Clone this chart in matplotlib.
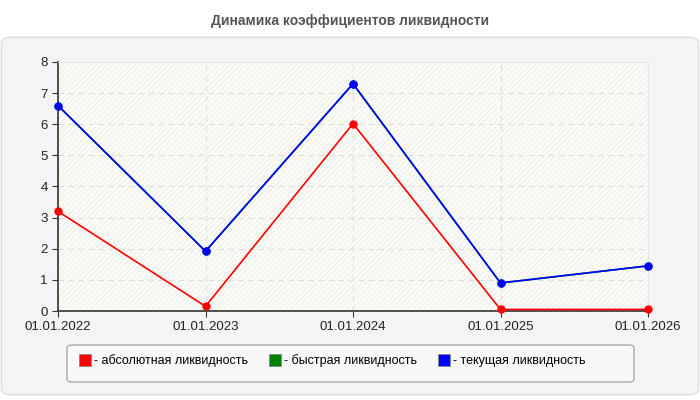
import matplotlib.pyplot as plt
from matplotlib.patches import FancyBboxPatch
from matplotlib.lines import Line2D

# ── Data ──────────────────────────────────────────────
DATES = ["01.01.2022", "01.01.2023", "01.01.2024", "01.01.2025", "01.01.2026"]
ABSOLUTE = [3.2, 0.15, 6.02, 0.05, 0.05]
QUICK = [6.6, 1.92, 7.3, 0.9, 1.45]
CURRENT = [6.6, 1.92, 7.3, 0.9, 1.45]

SERIES = [
    ("- абсолютная ликвидность", ABSOLUTE, "#ff0000"),
    ("- быстрая ликвидность", QUICK, "#008000"),
    ("- текущая ликвидность", CURRENT, "#0000ff"),
]

plt.rcParams['font.family'] = ['Liberation Sans', 'DejaVu Sans']

fig = plt.figure(figsize=(7, 4), dpi=100)
fig.patch.set_facecolor("white")

# grey rounded panel behind the chart
panel = FancyBboxPatch((0.002, 0.013), 0.996, 0.894,
                       boxstyle="round,pad=0,rounding_size=0.015",
                       transform=fig.transFigure, facecolor="#f4f4f4",
                       edgecolor="#dddddd", linewidth=1, zorder=-5)
fig.add_artist(panel)

fig.text(0.5, 0.948, "Динамика коэффициентов ликвидности", ha="center",
         va="center", fontsize=10, fontweight="bold", color="#555555")

ax = fig.add_axes([58 / 700, 1 - 311 / 400, 590 / 700, 249 / 400])
ax.set_facecolor("#fcfcf7")
ax.add_patch(plt.Rectangle((0, 0), 1, 1, transform=ax.transAxes,
                           facecolor="none", edgecolor="#f0f0ec",
                           hatch="//////", linewidth=0, zorder=0))

x = list(range(len(DATES)))
for label, vals, color in SERIES:
    ax.plot(x, vals, color=color, linewidth=1.2, marker="o",
            markersize=5, zorder=3, clip_on=False)

ax.set_xlim(0, len(DATES) - 1)
ax.set_ylim(0, 8)
ax.set_xticks(x)
ax.set_xticklabels(DATES)
ax.set_yticks(range(0, 9))
ax.tick_params(labelsize=9.5, colors="#222222", length=4, color="#333333")
ax.grid(True, color="#dddddd", linestyle=(0, (5, 4)), linewidth=0.8)
ax.set_axisbelow(True)
for side in ("top", "right"):
    ax.spines[side].set_color("#e6e6e6")
for side in ("left", "bottom"):
    ax.spines[side].set_color("#333333")
    ax.spines[side].set_linewidth(1.2)

# legend frame drawn separately so it can be wider than the entries
frame = FancyBboxPatch((67 / 700, 1 - 382 / 400), 567 / 700, 37 / 400,
                       boxstyle="round,pad=0,rounding_size=0.008",
                       transform=fig.transFigure, facecolor="#f8f8f8",
                       edgecolor="#aaaaaa", linewidth=1, zorder=-1)
fig.add_artist(frame)

handles = [Line2D([], [], color=c, marker="s", linestyle="none",
                  markersize=8, markeredgecolor="#888888",
                  markeredgewidth=0.6) for _, _, c in SERIES]
fig.legend(handles, [s[0] for s in SERIES], loc="center left",
           bbox_to_anchor=(66 / 700, 1 - 361 / 400), ncol=3,
           fontsize=9, frameon=False, handlelength=1.2,
           handletextpad=0.1, columnspacing=1.6)

fig.savefig("out.png", dpi=100, facecolor="white")
